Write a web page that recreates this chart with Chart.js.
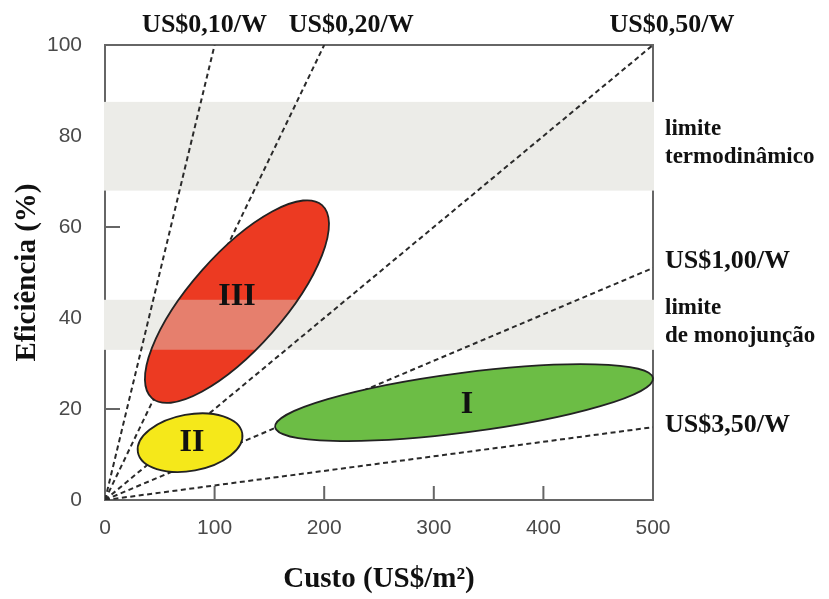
<!DOCTYPE html>
<html>
<head>
<meta charset="utf-8">
<script src="https://cdn.jsdelivr.net/npm/chart.js@4"></script>
<style>
  body { margin: 0; background: #fff; }
  #wrap { width: 829px; height: 599px; }
</style>
</head>
<body>
<div id="wrap"><canvas id="myChart" width="829" height="599"></canvas></div>
<script>
// cost lines ($/W) - all start at the origin
const priceLabels = ['US$0,10/W', 'US$0,20/W', 'US$0,50/W', 'US$1,00/W', 'US$3,50/W'];
const lineEndX = [100, 200, 500, 500, 500];
const lineEndY = [100, 100, 100, 51, 16];

// efficiency limit bands (%)
const bandLabels = [['limite', 'termodinâmico'], ['limite', 'de monojunção']];
const bandLow = [68, 33];
const bandHigh = [87.5, 44];

// technology regions (ellipses): center, end of major axis, end of minor axis
const regionNames = ['I', 'II', 'III'];
const regionCenterX = [327.6, 77.6, 120.4];
const regionCenterY = [21.4, 12.6, 43.6];
const regionMajorX = [500, 125.2, 198];
const regionMajorY = [26.8, 14.7, 64.8];
const regionMinorX = [331, 82.1, 152.6];
const regionMinorY = [14.9, 6.5, 36.8];

const xTicks = [0, 100, 200, 300, 400, 500];
const yTicks = [0, 20, 40, 60, 80, 100];

const regionColors = ['#6cbd45', '#f5e81a', '#ec3a22'];
const serif = '"Liberation Serif", "Times New Roman", serif';

const datasets = lineEndX.map((x, i) => ({
    label: priceLabels[i],
    data: [{ x: 0, y: 0 }, { x: x, y: lineEndY[i] }],
    showLine: true,
    borderColor: '#2a2a2a',
    borderWidth: 2,
    borderDash: [5, 3.5],
    pointRadius: 0,
}));

const shapes = {
    id: 'shapes',
    beforeDatasetsDraw(chart) {
        const { ctx, chartArea: a, scales: { x, y } } = chart;
        ctx.save();
        // frame
        ctx.strokeStyle = '#666';
        ctx.lineWidth = 2;
        ctx.strokeRect(a.left, a.top, a.right - a.left, a.bottom - a.top);
        // inner tick marks
        ctx.beginPath();
        xTicks.slice(1, -1).forEach(v => {
            const px = x.getPixelForValue(v);
            ctx.moveTo(px, a.bottom);
            ctx.lineTo(px, a.bottom - 14);
        });
        yTicks.slice(1, -1).forEach(v => {
            const py = y.getPixelForValue(v);
            ctx.moveTo(a.left, py);
            ctx.lineTo(a.left + 15, py);
        });
        ctx.stroke();
        // bands
        ctx.fillStyle = '#ecece8';
        bandLow.forEach((lo, i) => {
            const t = y.getPixelForValue(bandHigh[i]);
            const b = y.getPixelForValue(lo);
            ctx.fillRect(a.left - 1, t, a.right - a.left + 2, b - t);
        });
        ctx.restore();
    },
    afterDatasetsDraw(chart) {
        const { ctx, chartArea: a, scales: { x, y } } = chart;
        ctx.save();
        regionNames.forEach((name, i) => {
            const cx = x.getPixelForValue(regionCenterX[i]);
            const cy = y.getPixelForValue(regionCenterY[i]);
            const mx = x.getPixelForValue(regionMajorX[i]) - cx;
            const my = y.getPixelForValue(regionMajorY[i]) - cy;
            const nx = x.getPixelForValue(regionMinorX[i]) - cx;
            const ny = y.getPixelForValue(regionMinorY[i]) - cy;
            const ra = Math.hypot(mx, my);
            const rb = Math.hypot(nx, ny);
            const rot = Math.atan2(my, mx);
            const path = () => {
                ctx.beginPath();
                ctx.ellipse(cx, cy, ra, rb, rot, 0, Math.PI * 2);
            };
            path();
            ctx.fillStyle = regionColors[i];
            ctx.fill();
            // band shows through the region
            bandLow.forEach((lo, j) => {
                const t = y.getPixelForValue(bandHigh[j]);
                const b = y.getPixelForValue(lo);
                ctx.save();
                ctx.beginPath();
                ctx.rect(a.left, t, a.right - a.left, b - t);
                ctx.clip();
                path();
                ctx.fillStyle = 'rgba(222,224,215,0.42)';
                ctx.fill();
                ctx.restore();
            });
            path();
            ctx.strokeStyle = '#222';
            ctx.lineWidth = 1.8;
            ctx.stroke();
        });
        // region names
        ctx.fillStyle = '#111';
        ctx.textAlign = 'center';
        ctx.textBaseline = 'middle';
        ctx.font = 'bold 32px ' + serif;
        const nameDx = [3, 2, 0];
        const nameDy = [2, 0, -5];
        regionNames.forEach((name, i) => {
            ctx.fillText(name, x.getPixelForValue(regionCenterX[i]) + nameDx[i],
                y.getPixelForValue(regionCenterY[i]) + nameDy[i]);
        });
        // price labels
        ctx.font = 'bold 26px ' + serif;
        ctx.textBaseline = 'alphabetic';
        const topDx = [-10, 27, 19];
        const sideDy = [0, 0, 0, 0, 5];
        priceLabels.forEach((txt, i) => {
            if (lineEndY[i] >= 100) {
                ctx.textAlign = 'center';
                ctx.fillText(txt, x.getPixelForValue(lineEndX[i]) + topDx[i], a.top - 13);
            } else {
                ctx.textAlign = 'left';
                ctx.fillText(txt, a.right + 12, y.getPixelForValue(lineEndY[i]) + sideDy[i]);
            }
        });
        // band labels
        ctx.font = 'bold 23px ' + serif;
        ctx.textAlign = 'left';
        bandLabels.forEach((lines, i) => {
            const mid = (y.getPixelForValue(bandLow[i]) + y.getPixelForValue(bandHigh[i])) / 2;
            ctx.fillText(lines[0], a.right + 12, mid - 11);
            ctx.fillText(lines[1], a.right + 12, mid + 17);
        });
        ctx.restore();
    }
};

const ctx = document.getElementById('myChart').getContext('2d');
const myChart = new Chart(ctx, {
    type: 'scatter',
    data: { datasets: datasets },
    plugins: [shapes],
    options: {
        responsive: false,
        animation: false,
        layout: { padding: { top: 45, right: 176, left: 0, bottom: 0 } },
        plugins: { legend: { display: false }, tooltip: { enabled: false } },
        scales: {
            x: {
                type: 'linear',
                min: 0,
                max: 500,
                afterBuildTicks: s => { s.ticks = xTicks.map(v => ({ value: v })); },
                afterFit: s => { s.height = 99; },
                grid: { display: false, drawTicks: false },
                border: { display: false },
                ticks: { color: '#4a4a4a', padding: 16, font: { family: '"Liberation Sans", Arial, sans-serif', size: 21 } },
                title: {
                    display: true,
                    text: 'Custo (US$/m²)',
                    color: '#111',
                    font: { family: serif, size: 29, weight: 'bold' },
                    padding: { top: 0, bottom: 2 }
                }
            },
            y: {
                min: 0,
                max: 100,
                afterBuildTicks: s => { s.ticks = yTicks.map(v => ({ value: v })); },
                afterFit: s => { s.width = 105; },
                grid: { display: false, drawTicks: false },
                border: { display: false },
                ticks: { color: '#4a4a4a', padding: 23, font: { family: '"Liberation Sans", Arial, sans-serif', size: 21 } },
                title: {
                    display: true,
                    text: 'Eficiência (%)',
                    color: '#111',
                    font: { family: serif, size: 29, weight: 'bold' },
                    padding: { top: 10, bottom: 0 }
                }
            }
        }
    }
});
</script>
</body>
</html>
